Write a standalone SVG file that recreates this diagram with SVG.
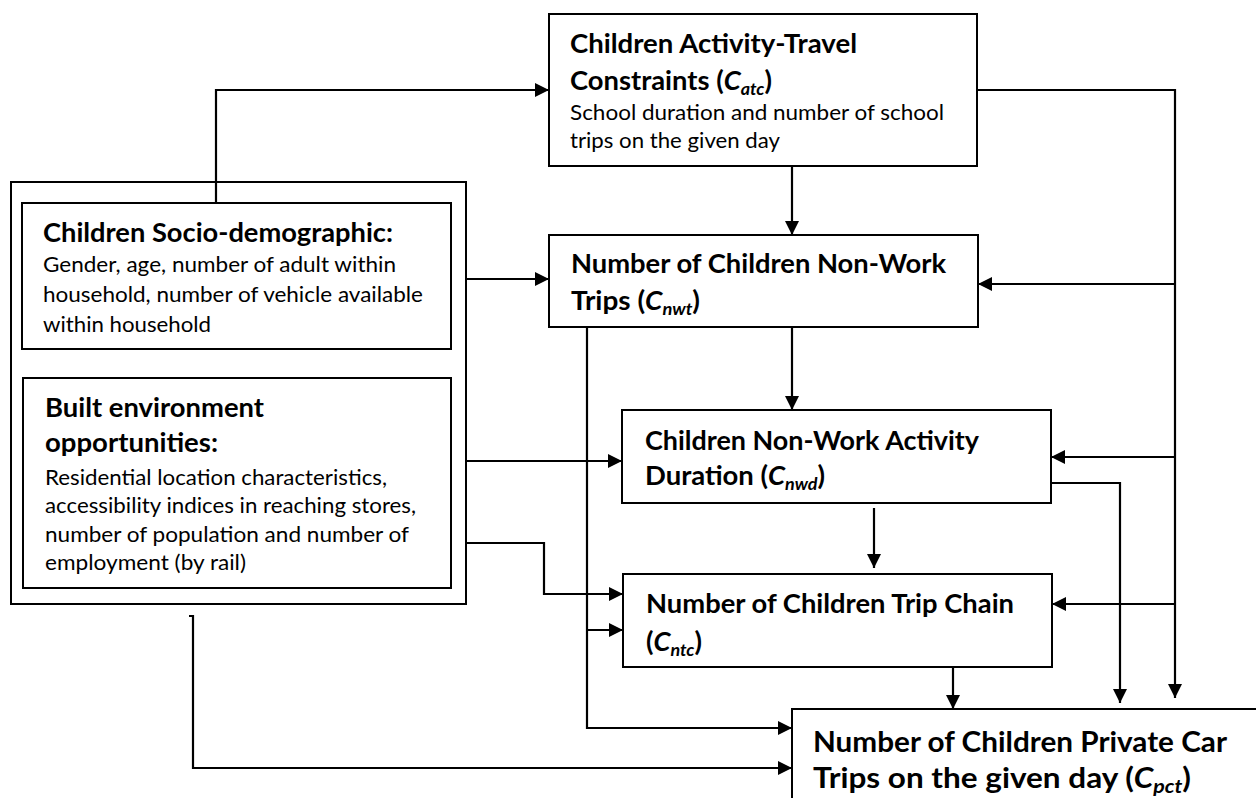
<svg xmlns="http://www.w3.org/2000/svg" width="1256" height="798" viewBox="0 0 1256 798">
<defs>
<style>
.box{fill:#fff;stroke:#000;stroke-width:2}
.c path{fill:none;stroke:#000;stroke-width:2.2}
.c path.a{marker-end:url(#ah)}
text{font-family:Lato,"Open Sans","Liberation Sans",sans-serif;fill:#000}
.t{font-weight:bold;font-size:26px}
.t5{font-weight:bold;font-size:28px}
.b{font-size:21.5px}
.i{font-style:italic}
.s{font-size:17px;font-style:italic}
.s5{font-size:19px;font-style:italic}
</style>
<marker id="ah" markerUnits="userSpaceOnUse" markerWidth="15" markerHeight="15" refX="14" refY="7" orient="auto" viewBox="0 0 15 15">
<path d="M0,0 L14,7 L0,14 Z" fill="#000"/>
</marker>
</defs>
<rect width="1256" height="798" fill="#fff"/>

<g id="left-group">
<rect class="box" x="11" y="182" width="455" height="422"/>
</g>

<g id="socio">
<rect class="box" x="22" y="203" width="429" height="146"/>
<text class="t" x="43" y="242" textLength="350" lengthAdjust="spacingAndGlyphs">Children Socio-demographic:</text>
<text class="b" x="43" y="272" textLength="353" lengthAdjust="spacingAndGlyphs">Gender, age, number of adult within</text>
<text class="b" x="43" y="302" textLength="380" lengthAdjust="spacingAndGlyphs">household, number of vehicle available</text>
<text class="b" x="43" y="332" textLength="168" lengthAdjust="spacingAndGlyphs">within household</text>
</g>

<g id="built">
<rect class="box" x="23" y="378" width="428" height="210"/>
<text class="t" x="45" y="417" textLength="219" lengthAdjust="spacingAndGlyphs">Built environment</text>
<text class="t" x="45" y="452" textLength="173" lengthAdjust="spacingAndGlyphs">opportunities:</text>
<text class="b" x="45" y="485" textLength="342" lengthAdjust="spacingAndGlyphs">Residential location characteristics,</text>
<text class="b" x="45" y="513" textLength="371" lengthAdjust="spacingAndGlyphs">accessibility indices in reaching stores,</text>
<text class="b" x="45" y="542" textLength="364" lengthAdjust="spacingAndGlyphs">number of population and number of</text>
<text class="b" x="45" y="570" textLength="201" lengthAdjust="spacingAndGlyphs">employment (by rail)</text>
</g>

<g id="catc">
<rect class="box" x="549" y="14" width="428" height="152"/>
<text class="t" x="570" y="53" textLength="287" lengthAdjust="spacingAndGlyphs">Children Activity-Travel</text>
<text class="t" x="570" y="90" textLength="202" lengthAdjust="spacingAndGlyphs">Constraints (<tspan class="i">C</tspan><tspan class="s" dy="5">atc</tspan><tspan dy="-5">)</tspan></text>
<text class="b" x="570" y="120" textLength="374" lengthAdjust="spacingAndGlyphs">School duration and number of school</text>
<text class="b" x="570" y="148" textLength="210" lengthAdjust="spacingAndGlyphs">trips on the given day</text>
</g>

<g id="cnwt">
<rect class="box" x="549" y="235" width="429" height="92"/>
<text class="t" x="571" y="273" textLength="375" lengthAdjust="spacingAndGlyphs">Number of Children Non-Work</text>
<text class="t" x="571" y="310" textLength="129" lengthAdjust="spacingAndGlyphs">Trips (<tspan class="i">C</tspan><tspan class="s" dy="5">nwt</tspan><tspan dy="-5">)</tspan></text>
</g>

<g id="cnwd">
<rect class="box" x="622" y="410" width="429" height="93"/>
<text class="t" x="645" y="450" textLength="334" lengthAdjust="spacingAndGlyphs">Children Non-Work Activity</text>
<text class="t" x="645" y="485" textLength="180" lengthAdjust="spacingAndGlyphs">Duration (<tspan class="i">C</tspan><tspan class="s" dy="5">nwd</tspan><tspan dy="-5">)</tspan></text>
</g>

<g id="cntc">
<rect class="box" x="623" y="574" width="429" height="93"/>
<text class="t" x="646" y="613" textLength="368" lengthAdjust="spacingAndGlyphs">Number of Children Trip Chain</text>
<text class="t" x="646" y="651" textLength="56" lengthAdjust="spacingAndGlyphs">(<tspan class="i">C</tspan><tspan class="s" dy="5">ntc</tspan><tspan dy="-5">)</tspan></text>
</g>

<g id="cpct">
<rect class="box" x="792" y="709" width="520" height="140"/>
<text class="t5" x="813" y="752" textLength="414" lengthAdjust="spacingAndGlyphs">Number of Children Private Car</text>
<text class="t5" x="813" y="788" textLength="378" lengthAdjust="spacingAndGlyphs">Trips on the given day (<tspan class="i">C</tspan><tspan class="s5" dy="5">pct</tspan><tspan dy="-5">)</tspan></text>
</g>

<g id="connectors" class="c">
<path class="a" d="M216,203 V90 H549"/>
<path class="a" d="M792,167 V235"/>
<path class="a" d="M977,90 H1175 V698"/>
<path class="a" d="M1175,284 H978"/>
<path class="a" d="M1175,457 H1051"/>
<path class="a" d="M1175,604 H1052"/>
<path class="a" d="M466,279 H549"/>
<path class="a" d="M792,328 V410"/>
<path class="a" d="M466,461 H622"/>
<path class="a" d="M874,508 V568"/>
<path class="a" d="M1051,483 H1120 V703"/>
<path class="a" d="M466,543 H544 V594 H623"/>
<path class="a" d="M587,328 V728 H792"/>
<path class="a" d="M587,630 H623"/>
<path class="a" d="M953,667 V709"/>
<path class="a" d="M189,616 H193 V768 H792"/>
</g>
</svg>
